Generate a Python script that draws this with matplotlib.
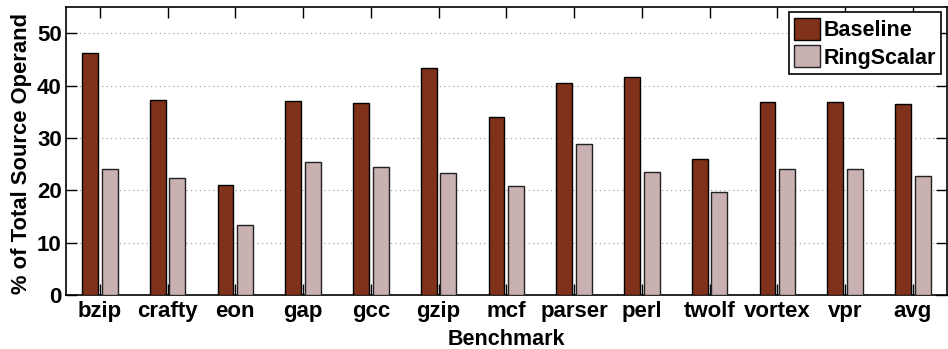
import matplotlib
matplotlib.use("Agg")
import matplotlib.pyplot as plt
import numpy as np

categories = ["bzip", "crafty", "eon", "gap", "gcc", "gzip", "mcf", "parser",
              "perl", "twolf", "vortex", "vpr", "avg"]
baseline = [46.2, 37.2, 21.1, 37.0, 36.6, 43.3, 33.9, 40.5, 41.6, 26.0, 36.8, 36.8, 36.4]
ringscalar = [24.1, 22.3, 13.3, 25.4, 24.5, 23.3, 20.9, 28.9, 23.5, 19.6, 24.1, 24.0, 22.8]

plt.rcParams['font.family'] = ['Liberation Sans', 'DejaVu Sans']
plt.rcParams['font.weight'] = 'bold'

fig = plt.figure(figsize=(9.48, 3.49), dpi=100)
ax = fig.add_axes([0.0696, 0.1547, 0.929, 0.8253])

x = np.arange(1, len(categories) + 1)
w = 0.235
ax.bar(x - 0.145, baseline, w, color='#7f3219', edgecolor='black', linewidth=1.0,
       label='Baseline', zorder=3)
ax.bar(x + 0.145, ringscalar, w, color='#c9b1b1', edgecolor='#222222', linewidth=1.0,
       label='RingScalar', zorder=3)

ax.set_xlim(0.5, 13.5)
ax.set_ylim(0, 55)
ax.set_xticks(x)
ax.set_xticklabels(categories)
ax.set_yticks([0, 10, 20, 30, 40, 50])
ax.yaxis.grid(True, linestyle=(0, (1, 3)), color='#999999', linewidth=0.8, zorder=0)
ax.tick_params(axis='both', direction='in', labelsize=16, length=8, width=1,
               top=True, right=True, pad=3)
ax.tick_params(axis='x', pad=4)
for lab in ax.get_xticklabels() + ax.get_yticklabels():
    lab.set_fontweight('bold')
for s in ax.spines.values():
    s.set_linewidth(1.2)

ax.set_ylabel('% of Total Source Operand', fontsize=15.8, fontweight='bold')
ax.yaxis.set_label_coords(-0.039, 0.49)
ax.set_xlabel('Benchmark', fontsize=15.5, fontweight='bold')
ax.xaxis.set_label_coords(0.5, -0.118)

leg = ax.legend(loc='upper right', fontsize=15.5, frameon=True, fancybox=False,
                edgecolor='black', handlelength=1.2, handleheight=1.2,
                handletextpad=0.15, borderpad=0.25, labelspacing=0.2,
                borderaxespad=0.25)
leg.get_frame().set_linewidth(1.2)
leg.get_frame().set_alpha(1)
for t in leg.get_texts():
    t.set_fontweight('bold')

fig.savefig('out.png', dpi=100)
